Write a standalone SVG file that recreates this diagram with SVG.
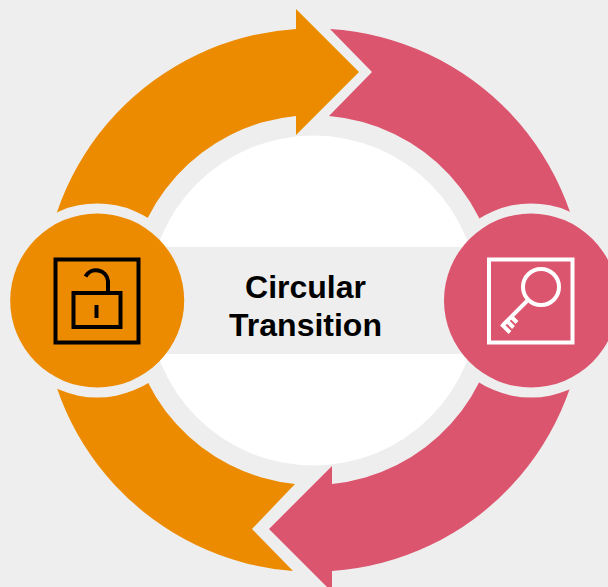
<svg xmlns="http://www.w3.org/2000/svg" width="608" height="587" viewBox="0 0 608 587">
<style>
.bg{fill:#eeeeee}
.o{fill:#ed8b00}
.p{fill:#dc556e}
.ik{fill:none;stroke:#000;stroke-width:4}
.iw{fill:none;stroke:#fff;stroke-width:4}
text{font-family:"Liberation Sans",Arial,sans-serif;font-weight:700;font-size:32px;fill:#000;text-anchor:middle}
</style>
<rect class="bg" width="608" height="587"/>
<g id="connectors">
<path class="o" d="M296 9L359 72L296 135V116A185 185 0 0 0 128.500 300H42.500A271 271 0 0 1 296 29Z"/>
<path class="p" d="M330 29A271 271 0 0 1 584.500 300H498.500A185 185 0 0 0 329 116L372 72Z"/>
<path class="p" d="M332 466V484A185 185 0 0 0 498.500 300H584.500A271 271 0 0 1 332 571V592L269 529Z"/>
<path class="o" d="M293 571A271 271 0 0 1 42.500 300H128.500A185 185 0 0 0 295 484L252 529Z"/>
</g>
<circle class="bg" cx="97.200" cy="300.500" r="97"/>
<circle class="bg" cx="531" cy="300.500" r="97"/>
<g id="center">
<circle cx="313.500" cy="300.500" r="165" fill="#fff"/>
<rect class="bg" x="140" y="247" width="350" height="107"/>
<text x="305.500" y="298">Circular</text>
<text x="305.500" y="336">Transition</text>
</g>
<g id="node-unlock">
<circle class="o" cx="97.200" cy="300.500" r="87"/>
<rect class="ik" x="55.500" y="259.500" width="83" height="83"/>
<rect class="ik" x="73.500" y="293" width="47" height="34"/>
<path class="ik" d="M108 291V281A12 12 0 0 0 85.500 276.500"/>
<path class="ik" stroke-width="5" d="M96.500 305V318"/>
</g>
<g id="node-key">
<circle class="p" cx="531" cy="300.500" r="87"/>
<rect class="iw" x="489" y="259.500" width="83.500" height="83"/>
<circle class="iw" cx="541" cy="287" r="18"/>
<path class="iw" d="M528 300L503 325M501.500 324L510 332.500M506.500 320.500L513.500 327.500M511 316.500L517 322.500" stroke-width="3.500"/>
</g>
</svg>
